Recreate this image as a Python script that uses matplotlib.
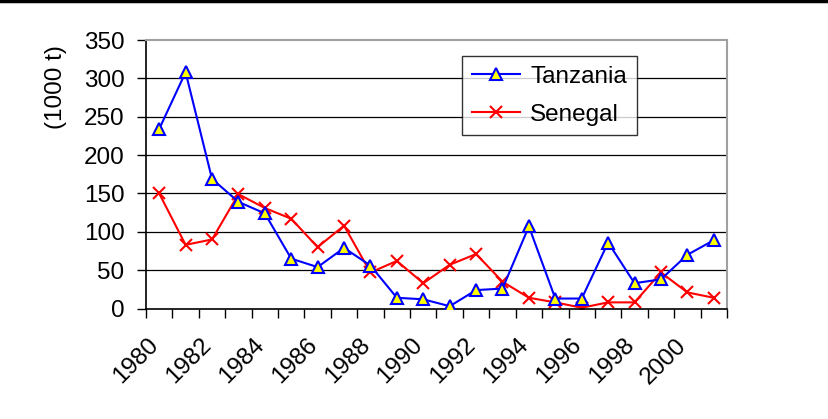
import matplotlib.pyplot as plt
import matplotlib.transforms as mtransforms
from matplotlib.lines import Line2D

# data
years = list(range(1980, 2002))
tanzania = [234, 308, 169, 139, 124, 65, 54, 79, 56, 14, 12, 3, 24, 26,
            107, 13, 13, 86, 33, 38, 70, 89]
senegal = [150, 83, 90, 149, 131, 117, 80, 108, 47, 62, 33, 57, 71, 35,
           14, 8, 1, 8, 8, 47, 21, 14]
y_ticks = [0, 50, 100, 150, 200, 250, 300, 350]

plt.rcParams['font.family'] = ['Liberation Sans', 'DejaVu Sans']
FS = 17.5

fig = plt.figure(figsize=(8.29, 4.19), dpi=100)
ax = fig.add_axes([0.1761, 0.2637, 0.7008, 0.6408])

x = list(range(len(years)))

# gridlines
for v in y_ticks[1:-1]:
    ax.axhline(v, color="black", linewidth=0.9, zorder=1)

ax.plot(x, tanzania, color="#0000FF", linewidth=1.5, marker="^",
        markersize=8, markerfacecolor="#FFFF00", markeredgecolor="#0000FF",
        markeredgewidth=1.5, label="Tanzania", zorder=3)
ax.plot(x, senegal, color="#FF0000", linewidth=1.5, marker="x",
        markersize=9, markeredgewidth=1.5, label="Senegal", zorder=2)

ax.set_xlim(-0.5, len(years) - 0.5)
ax.set_ylim(0, 350)

# y axis
ax.set_yticks(y_ticks)
ax.tick_params(axis="y", direction="out", length=6.5, width=1,
               labelsize=FS, pad=9)

# x axis: tick marks between categories, labels every other year
ax.set_xticks([i - 0.5 for i in range(len(years) + 1)], minor=True)
ax.set_xticks(x[::2])
ax.set_xticklabels([str(y) for y in years[::2]])
ax.tick_params(axis="x", which="minor", direction="out", length=6.5, width=1)
ax.tick_params(axis="x", which="major", length=0, labelsize=FS, pad=24)
shift = mtransforms.ScaledTranslation(-4 / 100, 0, fig.dpi_scale_trans)
for lab in ax.get_xticklabels():
    lab.set_rotation(45)
    lab.set_ha("right")
    lab.set_va("center")
    lab.set_rotation_mode("anchor")
    lab.set_transform(lab.get_transform() + shift)

for side in ["top", "right"]:
    ax.spines[side].set_color("#A0A0A0")
    ax.spines[side].set_linewidth(1.5)
for side in ["left", "bottom"]:
    ax.spines[side].set_color("black")
    ax.spines[side].set_linewidth(1.2)

fig.text(0.0676, 0.792, "(1000 t)", rotation=90, fontsize=FS,
         ha="center", va="center")

leg = ax.legend(loc="upper left", bbox_to_anchor=(0.5573, 0.8663),
                bbox_transform=fig.transFigure, fontsize=FS, frameon=True,
                fancybox=False, edgecolor="black", borderpad=0.4,
                labelspacing=0.65, handlelength=2.0, handletextpad=0.4,
                borderaxespad=0)
leg.get_frame().set_linewidth(1.0)
leg.set_zorder(5)

# thick line along the top of the picture
fig.add_artist(Line2D([0, 1], [1 - 1.5 / 419, 1 - 1.5 / 419],
                      transform=fig.transFigure, color="black", linewidth=2.5))

fig.savefig("out.png", dpi=100)
